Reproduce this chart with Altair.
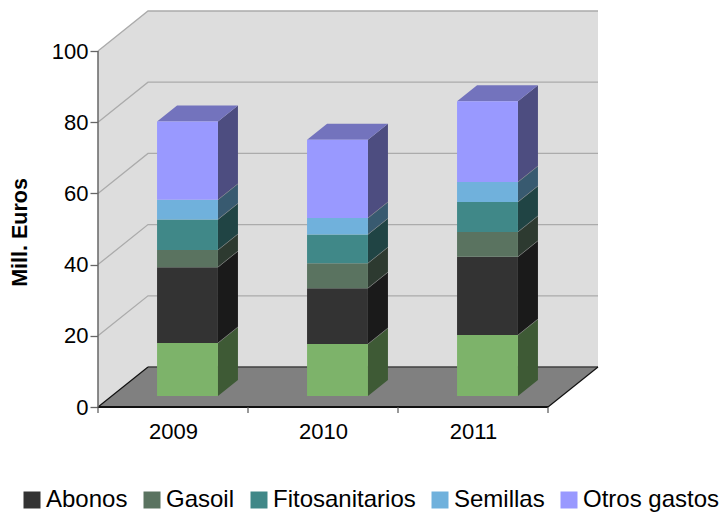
import json
import altair as alt
import pandas as pd

years = ["2009", "2010", "2011"]
series = ["Piensos", "Abonos", "Gasoil", "Fitosanitarios", "Semillas", "Otros gastos"]
v_2009 = [14.9, 21.3, 4.8, 8.6, 5.5, 22.0]
v_2010 = [14.6, 15.7, 7.0, 8.1, 4.6, 22.0]
v_2011 = [17.1, 22.0, 7.0, 8.4, 5.6, 22.7]
front_colors = ["#7DB36A", "#333333", "#5A7360", "#408888", "#70B1DC", "#9999FF"]
side_colors = ["#3E5A35", "#1A1A1A", "#2D3A30", "#204444", "#385A70", "#4D4D80"]
top_color = "#7373BD"
grid_values = [20, 40, 60, 80, 100]
y_ticks = [0, 20, 40, 60, 80, 100]
values_by_year = [v_2009, v_2010, v_2011]

# 3-D oblique projection, expressed in axis units
W, H = 500, 396
DX = 1 / 3          # depth shift along x, in categories
DV = 40 / 3.56      # depth shift along y, in axis units
XMAX = 3 + DX
YMAX = 100 + DV
BAR_L, BAR_R = 0.302, 0.708
Z0, Z1 = 0.275, 0.675

xs = alt.Scale(domain=[0, XMAX], nice=False, zero=False)
ys = alt.Scale(domain=[0, YMAX], nice=False, zero=False)

x_axis = alt.Axis(values=[0.5, 1.5, 2.5], labelExpr=f"{json.dumps(years)}[floor(datum.value)]",
                  title=None, domain=False, ticks=False, grid=False, labelPadding=14,
                  labelFontSize=22, labelFont="Liberation Sans", labelColor="#000000", labelAngle=0)
y_axis = alt.Axis(values=y_ticks, title="Mill. Euros", domain=False, grid=False,
                  tickSize=8, tickColor="#666666", tickWidth=1.3, labelPadding=2,
                  labelFontSize=22, labelFont="Liberation Sans", labelColor="#000000",
                  titleFont="Liberation Sans", titleFontSize=21.5, titleFontWeight="bold",
                  titleColor="#000000", titleX=-67, titleY=221)


def X(f="x"):
    return alt.X(f"{f}:Q", scale=xs, axis=x_axis)


def Y(f="y"):
    return alt.Y(f"{f}:Q", scale=ys, axis=y_axis)


fronts, sides, tops, edges = [], [], [], []
for i, vals in enumerate(values_by_year):
    base = 0.0
    l, r = i + BAR_L, i + BAR_R
    for j, (name, v) in enumerate(zip(series, vals)):
        a, b = base, base + v
        fronts.append(dict(x=l + Z0 * DX, x2=r + Z0 * DX, y=a + Z0 * DV, y2=b + Z0 * DV, s=name))
        key = f"{i}-{j}"
        for z in (Z0, Z1):
            sides.append(dict(x=r + z * DX, y=a + z * DV, y2=b + z * DV, k=key, c=side_colors[j]))
        if j > 0:
            for o, z in enumerate((Z0, Z1)):
                edges.append(dict(x=r + z * DX, y=a + z * DV, k=key, o=o))
        base = b
    for z in (Z0, Z1):
        tops.append(dict(x=l + z * DX, x2=r + z * DX, y=base + z * DV, k=str(i)))
fronts, sides, tops, edges = map(pd.DataFrame, (fronts, sides, tops, edges))

# walls and floor
back = alt.Chart(pd.DataFrame([dict(x=DX, x2=XMAX, y=DV, y2=YMAX)])).mark_rect(color="#DDDDDD").encode(
    x=X(), x2="x2:Q", y=Y(), y2="y2:Q")
left = alt.Chart(pd.DataFrame([dict(x=0, y=0, y2=100), dict(x=DX, y=DV, y2=YMAX)])).mark_area(
    color="#DDDDDD", orient="vertical").encode(x=X(), y=Y(), y2="y2:Q")
floor = alt.Chart(pd.DataFrame([dict(y=0, x=0, x2=3), dict(y=DV, x=DX, x2=XMAX)])).mark_area(
    color="#808080", orient="horizontal").encode(y=Y(), x=X(), x2="x2:Q")

# grid lines across the two walls
grid_rows = []
for g in grid_values:
    grid_rows += [dict(x=0, y=g, k=g, o=0), dict(x=DX, y=g + DV, k=g, o=1), dict(x=XMAX, y=g + DV, k=g, o=2)]
grid = alt.Chart(pd.DataFrame(grid_rows)).mark_line(color="#ABABAB", strokeWidth=1.3).encode(
    x=X(), y=Y(), detail="k:N", order="o:Q")

# floor outline
back_edge = alt.Chart(pd.DataFrame([dict(x=DX, y=DV, o=0), dict(x=XMAX, y=DV, o=1)])).mark_line(
    color="#404040", strokeWidth=1.5).encode(x=X(), y=Y(), order="o:Q")
outline_rows = [dict(x=0, y=0, k="l", o=0), dict(x=DX, y=DV, k="l", o=1),
                dict(x=3, y=0, k="r", o=0), dict(x=XMAX, y=DV, k="r", o=1)]
outline = alt.Chart(pd.DataFrame(outline_rows)).mark_line(color="#111111", strokeWidth=1.2).encode(
    x=X(), y=Y(), detail="k:N", order="o:Q")
front_edge = alt.Chart(pd.DataFrame([dict(x=0, y=0, o=0), dict(x=3, y=0, o=1)])).mark_line(
    color="#111111", strokeWidth=2).encode(x=X(), y=Y(), order="o:Q")

# bars
side_l = alt.Chart(sides).mark_area(orient="vertical").encode(
    x=X(), y=Y(), y2="y2:Q", detail="k:N", fill=alt.Fill("c:N", scale=None, legend=None))
edge_l = alt.Chart(edges).mark_line(color="#8A8A8A", strokeWidth=0.8, opacity=0.7).encode(
    x=X(), y=Y(), detail="k:N", order="o:Q")
top_l = alt.Chart(tops).mark_area(orient="horizontal", color=top_color).encode(
    y=Y(), x=X(), x2="x2:Q", detail="k:N")
front_l = alt.Chart(fronts).mark_rect().encode(
    x=X(), x2="x2:Q", y=Y(), y2="y2:Q",
    color=alt.Color("s:N", scale=alt.Scale(domain=series, range=front_colors),
                    legend=alt.Legend(title=None, orient="none", legendX=-202, legendY=477, direction="horizontal",
                                      columns=6, gridAlign="none", symbolType="square", symbolSize=289,
                                      symbolStrokeWidth=0, labelFontSize=24, labelFont="Liberation Sans",
                                      labelColor="#000000", labelOffset=2, columnPadding=12, padding=0,
                                      labelLimit=300, symbolOpacity=1)))

# axes
y_line = alt.Chart(pd.DataFrame([dict(x=0, y=0, y2=100)])).mark_rule(color="#666666", strokeWidth=1.5).encode(
    x=X(), y=Y(), y2="y2:Q")
x_ticks = alt.Chart(pd.DataFrame([dict(x=t, y=0, y2=-6 / 3.56) for t in range(4)])).mark_rule(
    color="#555555", strokeWidth=1.2).encode(x=X(), y=Y(), y2="y2:Q")

chart = alt.layer(
    back, left, floor, grid, back_edge, outline, side_l, edge_l, top_l, front_l,
    front_edge, y_line, x_ticks,
).properties(
    width=W, height=H, background="#FFFFFF",
    padding={"left": 90, "top": 3, "right": 122, "bottom": 105},
    autosize=alt.AutoSizeParams(type="none"),
).configure_view(stroke=None)

chart.save("out.html", embed_options={"renderer": "svg", "actions": False})
